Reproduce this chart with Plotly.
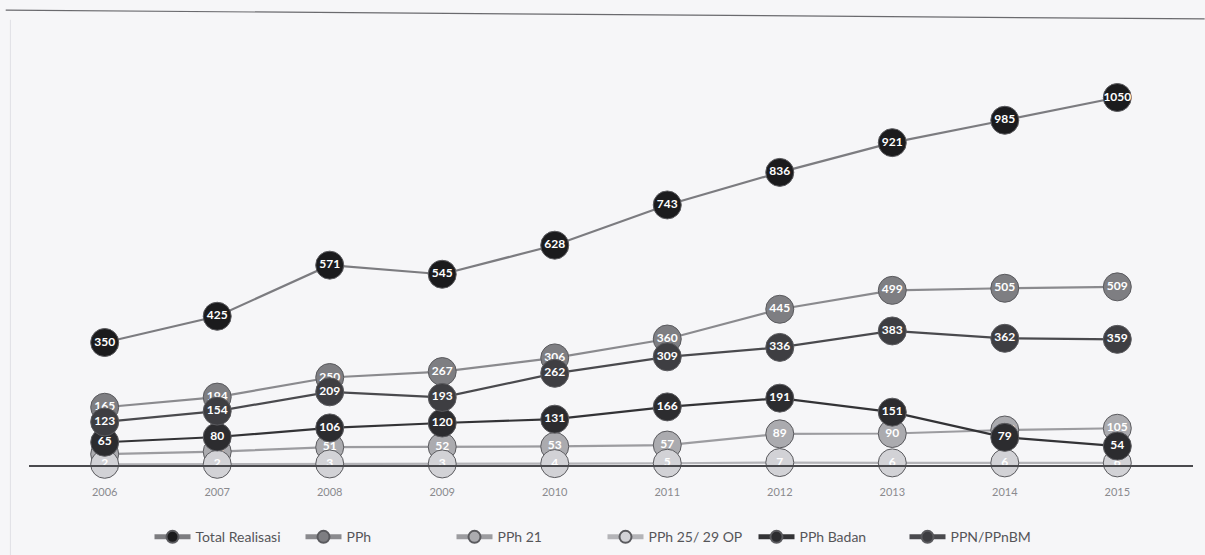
import plotly.graph_objects as go

# Realisasi penerimaan pajak per tahun
years = ["2006", "2007", "2008", "2009", "2010", "2011", "2012", "2013", "2014", "2015"]
total_realisasi = [350, 425, 571, 545, 628, 743, 836, 921, 985, 1050]
pph = [165, 194, 250, 267, 306, 360, 445, 499, 505, 509]
pph_21 = [31, 38, 51, 52, 53, 57, 89, 90, 100, 105]
pph_25_29_op = [2, 2, 3, 3, 4, 5, 7, 6, 6, 6]
pph_badan = [65, 80, 106, 120, 131, 166, 191, 151, 79, 54]
ppn_ppnbm = [123, 154, 209, 193, 262, 309, 336, 383, 362, 359]

series = [
    ("Total Realisasi", total_realisasi, "#1b1b1d", "#7c7c80"),
    ("PPh", pph, "#7e7e82", "#8a8a8e"),
    ("PPh 21", pph_21, "#ababaf", "#9c9ca0"),
    ("PPh 25/ 29 OP", pph_25_29_op, "#d2d2d6", "#b4b4b8"),
    ("PPh Badan", pph_badan, "#2c2c2f", "#333336"),
    ("PPN/PPnBM", ppn_ppnbm, "#3e3e42", "#4a4a4e"),
]

font_family = "Liberation Sans Narrow, Lato, sans-serif"

fig = go.Figure()
for name, values, marker_color, line_color in series:
    fig.add_trace(go.Scatter(
        x=years,
        y=values,
        name=name,
        mode="lines+markers+text",
        text=[str(v) for v in values],
        textposition="middle center",
        textfont=dict(family=font_family, size=12, color="white", weight="bold"),
        line=dict(color=line_color, width=2.2),
        marker=dict(size=28, color=marker_color, line=dict(color="#5a5a5e", width=1)),
        cliponaxis=False,
    ))

fig.update_layout(
    width=1205,
    height=555,
    margin=dict(l=29, r=12, t=45, b=90, autoexpand=False),
    paper_bgcolor="#f6f6f8",
    plot_bgcolor="#f6f6f8",
    showlegend=True,
    legend=dict(
        orientation="h",
        x=0.5, xanchor="center", xref="container",
        y=0.032, yanchor="middle", yref="container",
        font=dict(family=font_family, size=14, color="#555558"),
        itemwidth=36,
        itemsizing="constant",
        entrywidth=100,
        entrywidthmode="pixels",
        bgcolor="rgba(0,0,0,0)",
    ),
    xaxis=dict(
        type="category",
        showline=True,
        linecolor="#4a4a4e",
        linewidth=1.5,
        showgrid=False,
        ticks="outside",
        ticklen=16,
        tickcolor="rgba(0,0,0,0)",
        tickfont=dict(family=font_family, size=11, color="#8a8a8e"),
        zeroline=False,
    ),
    yaxis=dict(
        range=[0, 1200],
        visible=False,
        showgrid=False,
        zeroline=False,
    ),
    shapes=[
        dict(type="line", xref="paper", yref="paper", x0=-0.02, x1=1.01, y0=1.083, y1=1.062,
             line=dict(color="#6a6a6e", width=1.2)),
        dict(type="line", xref="paper", yref="paper", x0=-0.016, x1=-0.016, y0=1.06, y1=-0.32,
             line=dict(color="#e0e0e4", width=1)),
    ],
)

fig.write_html("out.html")
